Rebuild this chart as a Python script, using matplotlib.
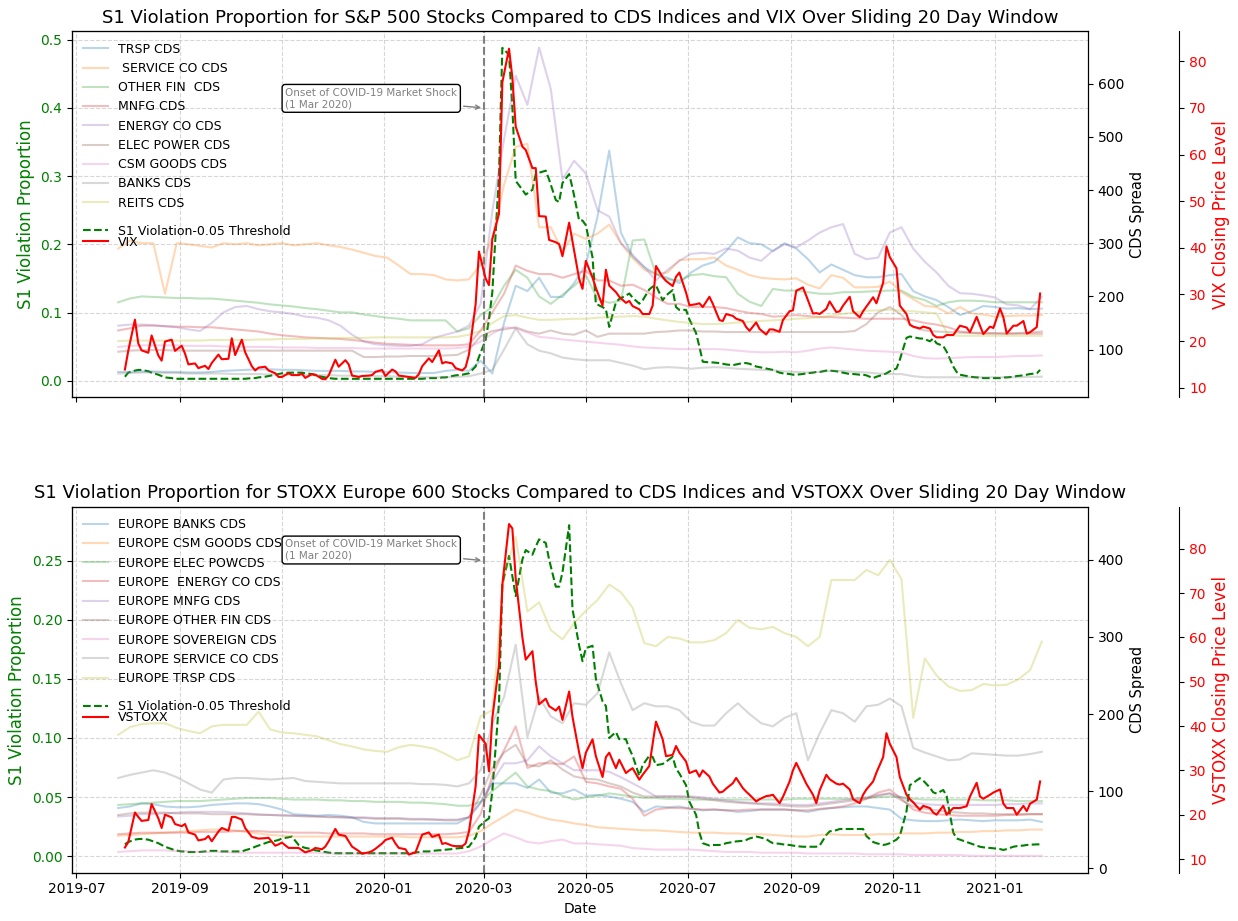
import pandas as pd
import matplotlib
matplotlib.use("Agg")
import matplotlib.pyplot as plt
import matplotlib.dates as mdates

# Fechas: CDS semanales, S1 y volatilidad cada 2 dias habiles
week_dates = pd.date_range("2019-07-26", periods=80, freq="7D")
vol_dates = pd.bdate_range("2019-07-30", "2021-01-28")[::2]
covid_date = pd.Timestamp("2020-03-01")

# ---------------- S&P 500 ----------------
us_cds_names = ["TRSP CDS", " SERVICE CO CDS", "OTHER FIN  CDS", "MNFG CDS", "ENERGY CO CDS",
                "ELEC POWER CDS", "CSM GOODS CDS", "BANKS CDS", "REITS CDS"]

trsp_cds = [58, 58, 59, 59, 58, 58, 57, 57, 58, 60,
            61, 62, 63, 63, 62, 62, 61, 60, 60, 60,
            59, 59, 58, 58, 57, 56, 56, 56, 60, 62,
            60, 79, 55, 150, 220, 210, 235, 199, 199, 225,
            260, 350, 474, 320, 275, 255, 242, 235, 225, 245,
            258, 265, 285, 311, 300, 298, 285, 300, 290, 270,
            245, 260, 250, 240, 236, 236, 240, 242, 210, 200,
            193, 180, 165, 172, 182, 180, 177, 178, 176, 177]
service_cds = [290, 305, 300, 300, 205, 300, 298, 295, 292, 300,
               298, 300, 296, 298, 300, 296, 298, 300, 296, 293,
               288, 282, 276, 273, 258, 242, 242, 240, 232, 230,
               232, 260, 310, 410, 481, 487, 330, 330, 285, 318,
               308, 318, 335, 300, 272, 250, 242, 245, 268, 270,
               270, 273, 258, 250, 240, 235, 233, 232, 234, 222,
               215, 240, 235, 217, 217, 218, 228, 208, 195, 182,
               180, 168, 180, 168, 166, 162, 163, 164, 164, 165]
other_fin_cds = [189, 196, 200, 199, 198, 197, 197, 196, 196, 194,
                 192, 190, 188, 185, 183, 181, 178, 176, 173, 170,
                 170, 166, 163, 160, 158, 155, 155, 155, 155, 134,
                 140, 165, 180, 220, 250, 235, 200, 186, 203, 220,
                 240, 195, 188, 192, 305, 307, 242, 232, 230, 240,
                 242, 238, 236, 205, 190, 182, 214, 211, 211, 208,
                 205, 205, 208, 208, 209, 210, 211, 211, 199, 193,
                 182, 189, 192, 192, 191, 189, 189, 189, 189, 189]
mnfg_cds = [136, 140, 145, 145, 144, 143, 143, 142, 142, 140,
            138, 136, 134, 130, 127, 125, 123, 122, 121, 120,
            118, 116, 113, 111, 110, 109, 108, 108, 108, 108,
            110, 136, 170, 205, 258, 248, 242, 242, 235, 242,
            248, 230, 230, 220, 222, 212, 198, 186, 186, 180,
            180, 180, 178, 173, 169, 167, 162, 163, 165, 163,
            161, 161, 160, 159, 158, 158, 158, 158, 155, 150,
            147, 142, 134, 132, 131, 131, 130, 130, 130, 130]
energy_cds = [145, 147, 147, 146, 144, 142, 138, 135, 150, 170,
              180, 182, 176, 172, 170, 167, 162, 160, 155, 145,
              128, 115, 110, 108, 107, 107, 110, 122, 128, 134,
              145, 186, 360, 495, 615, 560, 668, 590, 420, 455,
              431, 362, 350, 300, 278, 255, 230, 250, 267, 280,
              282, 280, 290, 286, 273, 267, 286, 298, 292, 305,
              320, 330, 336, 280, 270, 273, 320, 330, 290, 265,
              245, 220, 206, 205, 202, 198, 185, 183, 176, 199]
elec_power_cds = [96, 98, 99, 99, 99, 98, 98, 98, 98, 98,
                  98, 98, 98, 98, 98, 98, 98, 98, 98, 98,
                  98, 86, 86, 87, 87, 88, 88, 88, 89, 90,
                  100, 125, 135, 138, 142, 134, 130, 136, 130, 128,
                  136, 124, 130, 130, 130, 130, 133, 134, 136, 136,
                  134, 134, 133, 133, 133, 133, 133, 133, 133, 133,
                  133, 133, 133, 135, 148, 170, 180, 165, 142, 136,
                  134, 133, 132, 131, 130, 130, 130, 131, 132, 134]
csm_goods_cds = [105, 107, 108, 108, 108, 108, 107, 107, 107, 106,
                 106, 105, 105, 105, 104, 104, 104, 103, 103, 103,
                 103, 102, 102, 102, 102, 102, 102, 102, 102, 103,
                 105, 115, 130, 142, 140, 132, 124, 122, 119, 117,
                 115, 113, 111, 109, 106, 104, 103, 102, 101, 101,
                 101, 101, 100, 98, 96, 95, 95, 96, 95, 98,
                 102, 104, 102, 100, 98, 97, 96, 95, 88, 84,
                 83, 84, 85, 86, 86, 86, 87, 88, 88, 89]
banks_cds = [55, 56, 57, 57, 56, 56, 55, 55, 55, 55,
             54, 54, 54, 53, 53, 53, 52, 52, 52, 51,
             51, 50, 50, 50, 49, 49, 48, 48, 48, 49,
             50, 55, 62, 100, 140, 110, 98, 93, 85, 82,
             80, 80, 80, 75, 70, 63, 66, 67, 66, 64,
             66, 67, 66, 64, 63, 62, 61, 59, 58, 57,
             58, 60, 60, 58, 57, 55, 54, 54, 50, 48,
             48, 48, 48, 48, 48, 48, 48, 48, 49, 49]
reits_cds = [116, 117, 117, 117, 117, 117, 117, 117, 118, 118,
             118, 118, 119, 119, 120, 120, 120, 121, 121, 122,
             122, 122, 123, 123, 123, 123, 123, 123, 123, 124,
             128, 135, 150, 163, 165, 160, 156, 156, 157, 158,
             158, 160, 161, 162, 163, 162, 158, 155, 152, 150,
             148, 148, 149, 151, 152, 154, 155, 156, 158, 159,
             161, 164, 167, 170, 173, 174, 175, 173, 172, 170,
             168, 127, 126, 126, 126, 126, 126, 126, 126, 126]

s1_us = [0.006, 0.012, 0.015, 0.016, 0.016, 0.014, 0.012, 0.009, 0.007, 0.005,
         0.004, 0.003, 0.003, 0.003, 0.003, 0.003, 0.003, 0.003, 0.003, 0.003,
         0.003, 0.003, 0.003, 0.003, 0.003, 0.003, 0.003, 0.004, 0.004, 0.005,
         0.006, 0.007, 0.009, 0.010, 0.011, 0.012, 0.012, 0.012, 0.012, 0.011,
         0.010, 0.008, 0.006, 0.005, 0.004, 0.003, 0.003, 0.003, 0.003, 0.003,
         0.003, 0.003, 0.003, 0.003, 0.003, 0.003, 0.003, 0.003, 0.003, 0.003,
         0.003, 0.003, 0.003, 0.003, 0.003, 0.004, 0.004, 0.004, 0.005, 0.005,
         0.007, 0.008, 0.009, 0.010, 0.011, 0.021, 0.035, 0.060, 0.090, 0.130,
         0.303, 0.488, 0.478, 0.400, 0.293, 0.280, 0.273, 0.280, 0.303, 0.305,
         0.308, 0.295, 0.265, 0.262, 0.290, 0.303, 0.283, 0.235, 0.235, 0.228,
         0.181, 0.113, 0.108, 0.105, 0.079, 0.115, 0.120, 0.125, 0.128, 0.122,
         0.113, 0.118, 0.134, 0.138, 0.140, 0.118, 0.125, 0.133, 0.108, 0.104,
         0.104, 0.090, 0.070, 0.050, 0.028, 0.027, 0.027, 0.026, 0.025, 0.024,
         0.023, 0.024, 0.026, 0.026, 0.025, 0.021, 0.020, 0.018, 0.017, 0.016,
         0.012, 0.011, 0.010, 0.009, 0.009, 0.010, 0.011, 0.012, 0.013, 0.013,
         0.015, 0.015, 0.014, 0.013, 0.012, 0.010, 0.010, 0.009, 0.009, 0.008,
         0.004, 0.006, 0.009, 0.011, 0.014, 0.018, 0.031, 0.063, 0.065, 0.064,
         0.062, 0.062, 0.058, 0.062, 0.055, 0.051, 0.043, 0.021, 0.013, 0.009,
         0.007, 0.006, 0.005, 0.005, 0.004, 0.004, 0.004, 0.004, 0.005, 0.005,
         0.006, 0.007, 0.008, 0.009, 0.010, 0.011, 0.016]

vix = [13.9, 17.9, 24.6, 19.5, 18.0, 17.5, 21.2, 16.9, 15.8, 19.9,
       20.3, 17.9, 19.0, 17.3, 15.0, 15.2, 14.2, 14.7, 14.0, 15.3,
       17.1, 16.1, 16.2, 20.6, 17.0, 20.3, 17.6, 14.6, 13.7, 14.3,
       14.5, 13.7, 13.1, 12.3, 12.3, 13.1, 12.7, 12.7, 13.0, 12.1,
       12.9, 12.8, 11.9, 11.8, 12.6, 16.0, 14.5, 15.9, 15.0, 12.6,
       12.3, 12.5, 12.6, 12.7, 13.4, 13.8, 12.5, 13.9, 13.5, 12.6,
       12.4, 12.3, 12.1, 12.9, 14.6, 16.3, 15.5, 18.0, 15.2, 15.5,
       15.2, 14.2, 13.7, 14.4, 17.1, 27.9, 39.2, 33.4, 32.0, 41.9,
       47.3, 75.5, 82.7, 76.5, 66.0, 61.7, 61.0, 57.1, 57.1, 46.8,
       46.7, 41.7, 41.2, 40.8, 38.2, 45.4, 41.4, 33.3, 31.2, 37.2,
       33.6, 31.4, 27.6, 35.3, 31.9, 30.5, 29.5, 28.2, 28.6, 27.5,
       26.8, 25.8, 25.8, 27.6, 36.1, 33.7, 32.9, 31.8, 33.8, 34.7,
       30.4, 27.7, 27.9, 28.1, 27.3, 29.5, 28.0, 24.5, 24.3, 25.8,
       25.4, 24.8, 24.3, 23.0, 22.2, 24.0, 22.6, 21.4, 22.5, 22.5,
       22.0, 24.5, 26.4, 26.6, 30.8, 31.5, 29.7, 25.9, 26.0, 25.8,
       26.9, 28.5, 26.2, 26.4, 27.6, 29.5, 26.4, 25.1, 26.4, 27.4,
       29.4, 28.1, 32.5, 40.3, 38.0, 35.6, 27.6, 25.8, 23.5, 23.1,
       22.7, 23.1, 22.7, 21.3, 20.8, 20.8, 21.3, 21.3, 22.3, 23.3,
       22.9, 21.9, 25.2, 23.3, 21.5, 23.1, 22.8, 27.0, 25.1, 21.6,
       23.3, 23.3, 24.3, 21.6, 21.9, 23.0, 30.2]

# ---------------- STOXX Europe 600 ----------------
eu_cds_names = ["EUROPE BANKS CDS", "EUROPE CSM GOODS CDS", "EUROPE ELEC POWCDS",
                "EUROPE  ENERGY CO CDS", "EUROPE MNFG CDS", "EUROPE OTHER FIN CDS",
                "EUROPE SOVEREIGN CDS", "EUROPE SERVICE CO CDS", "EUROPE TRSP CDS"]

eu_banks_cds = [78, 80, 84, 83, 80, 79, 79, 80, 82, 83,
                84, 84, 83, 80, 76, 70, 69, 68, 69, 68,
                66, 60, 58, 58, 58, 58, 58, 58, 58, 58,
                66, 85, 110, 110, 110, 104, 115, 98, 97, 102,
                94, 95, 93, 90, 86, 73, 80, 79, 80, 77,
                75, 76, 75, 73, 74, 76, 76, 76, 75, 73,
                76, 78, 79, 80, 80, 78, 76, 64, 62, 61,
                61, 62, 63, 62, 61, 62, 62, 62, 63, 60]
eu_csm_cds = [42, 43, 44, 45, 46, 47, 48, 49, 50, 50,
              49, 47, 45, 43, 42, 41, 41, 41, 41, 41,
              41, 41, 41, 41, 41, 40, 40, 40, 40, 40,
              42, 48, 58, 67, 76, 72, 67, 63, 61, 58,
              56, 53, 52, 51, 50, 49, 49, 48, 47, 46,
              46, 46, 45, 45, 44, 44, 43, 42, 41, 41,
              43, 44, 43, 43, 43, 44, 44, 45, 45, 45,
              46, 46, 47, 47, 48, 48, 49, 49, 50, 50]
eu_elec_cds = [82, 83, 84, 85, 86, 87, 87, 87, 88, 89,
               90, 91, 91, 91, 90, 89, 89, 89, 88, 88,
               87, 87, 86, 86, 86, 85, 85, 84, 83, 81,
               81, 86, 100, 112, 124, 106, 102, 100, 94, 89,
               92, 94, 97, 95, 93, 91, 91, 90, 90, 89,
               89, 89, 89, 89, 89, 89, 89, 89, 90, 90,
               90, 90, 90, 90, 91, 92, 93, 92, 90, 89,
               89, 89, 89, 89, 88, 88, 88, 87, 87, 87]
eu_energy_cds = [44, 45, 46, 46, 46, 46, 46, 47, 47, 47,
                 48, 48, 48, 47, 47, 46, 46, 46, 45, 45,
                 45, 45, 44, 44, 44, 44, 44, 44, 44, 45,
                 47, 70, 120, 153, 184, 130, 136, 136, 135, 145,
                 112, 110, 106, 103, 90, 68, 76, 78, 78, 77,
                 76, 76, 75, 75, 76, 76, 76, 76, 75, 75,
                 77, 78, 80, 84, 90, 98, 102, 90, 76, 72,
                 70, 69, 68, 68, 68, 68, 69, 69, 70, 70]
eu_mnfg_cds = [67, 68, 70, 70, 71, 72, 73, 73, 73, 73,
               72, 71, 70, 69, 69, 68, 68, 67, 67, 66,
               66, 66, 65, 65, 65, 64, 64, 63, 63, 63,
               66, 85, 112, 136, 136, 140, 158, 145, 136, 127,
               127, 127, 125, 118, 110, 102, 93, 93, 93, 93,
               92, 90, 88, 86, 85, 84, 84, 83, 82, 82,
               84, 86, 88, 90, 92, 95, 97, 92, 85, 83,
               82, 82, 82, 82, 82, 82, 83, 83, 84, 84]
eu_other_fin_cds = [69, 71, 72, 72, 72, 71, 71, 71, 70, 70,
                    70, 70, 69, 69, 68, 68, 67, 67, 66, 66,
                    65, 65, 64, 64, 64, 63, 63, 63, 62, 62,
                    66, 95, 130, 150, 160, 134, 132, 140, 128, 119,
                    116, 115, 110, 106, 98, 93, 93, 93, 93, 92,
                    90, 88, 86, 85, 84, 83, 82, 81, 80, 80,
                    82, 84, 86, 88, 90, 94, 97, 88, 80, 77,
                    75, 73, 72, 71, 71, 70, 70, 70, 70, 70]
eu_sovereign_cds = [21, 22, 23, 23, 23, 22, 22, 21, 21, 21,
                    20, 20, 20, 20, 20, 20, 20, 20, 19, 19,
                    19, 19, 19, 19, 19, 19, 19, 19, 19, 19,
                    22, 28, 37, 45, 40, 34, 32, 35, 37, 32,
                    32, 31, 30, 29, 26, 25, 24, 24, 24, 24,
                    23, 22, 21, 21, 21, 20, 20, 20, 20, 19,
                    19, 19, 19, 19, 18, 18, 18, 18, 17, 17,
                    17, 17, 17, 16, 16, 16, 16, 16, 16, 16]
eu_service_cds = [117, 121, 124, 127, 124, 118, 110, 102, 98, 115,
                  117, 117, 116, 115, 116, 117, 113, 112, 111, 110,
                  110, 110, 110, 110, 110, 110, 109, 109, 108, 106,
                  110, 127, 188, 222, 290, 170, 222, 197, 188, 214,
                  212, 227, 280, 240, 205, 214, 210, 210, 205, 190,
                  185, 185, 201, 214, 200, 188, 184, 195, 201, 140,
                  175, 205, 201, 190, 210, 212, 220, 210, 156, 150,
                  145, 140, 141, 149, 148, 147, 146, 146, 148, 151]
eu_trsp_cds = [173, 183, 187, 188, 188, 182, 178, 175, 184, 186,
               186, 186, 203, 180, 176, 175, 173, 171, 166, 161,
               158, 154, 152, 151, 157, 160, 158, 155, 148, 140,
               145, 197, 205, 380, 430, 333, 345, 309, 297, 318,
               334, 348, 368, 358, 338, 292, 288, 300, 298, 293,
               293, 296, 305, 322, 312, 310, 313, 305, 300, 288,
               300, 374, 374, 374, 387, 380, 400, 375, 195, 272,
               250, 236, 230, 231, 239, 237, 238, 245, 257, 294]

s1_eu = [0.010, 0.012, 0.014, 0.0145, 0.0146, 0.014, 0.013, 0.011, 0.0095, 0.008,
         0.006, 0.005, 0.004, 0.004, 0.0035, 0.0035, 0.0035, 0.004, 0.0045, 0.0045,
         0.0045, 0.004, 0.004, 0.004, 0.004, 0.004, 0.005, 0.0067, 0.008, 0.009,
         0.011, 0.012, 0.013, 0.0137, 0.015, 0.016, 0.0166, 0.0095, 0.008, 0.007,
         0.006, 0.005, 0.004, 0.0035, 0.003, 0.0025, 0.0025, 0.0025, 0.0025, 0.0025,
         0.0025, 0.0025, 0.0025, 0.0025, 0.0025, 0.0025, 0.0025, 0.0025, 0.0025, 0.0025,
         0.0025, 0.0025, 0.003, 0.0035, 0.004, 0.004, 0.0045, 0.005, 0.005, 0.0055,
         0.006, 0.0065, 0.007, 0.0075, 0.008, 0.016, 0.025, 0.030, 0.032, 0.055,
         0.130, 0.230, 0.254, 0.237, 0.220, 0.251, 0.259, 0.255, 0.262, 0.268,
         0.265, 0.251, 0.228, 0.228, 0.240, 0.280, 0.209, 0.178, 0.165, 0.176,
         0.178, 0.150, 0.131, 0.127, 0.100, 0.105, 0.099, 0.099, 0.091, 0.085,
         0.068, 0.077, 0.085, 0.084, 0.077, 0.078, 0.080, 0.084, 0.074, 0.070,
         0.060, 0.046, 0.035, 0.020, 0.011, 0.009, 0.0095, 0.0095, 0.010, 0.011,
         0.012, 0.0125, 0.013, 0.0137, 0.015, 0.0166, 0.016, 0.0145, 0.0125, 0.011,
         0.0105, 0.010, 0.0095, 0.009, 0.0085, 0.008, 0.008, 0.008, 0.008, 0.009,
         0.018, 0.021, 0.022, 0.023, 0.023, 0.023, 0.023, 0.023, 0.023, 0.017,
         0.012, 0.011, 0.0095, 0.010, 0.011, 0.014, 0.017, 0.038, 0.060, 0.062,
         0.066, 0.064, 0.058, 0.054, 0.053, 0.056, 0.051, 0.020, 0.015, 0.014,
         0.012, 0.011, 0.009, 0.008, 0.0075, 0.007, 0.0067, 0.006, 0.0053, 0.006,
         0.008, 0.0085, 0.009, 0.0095, 0.0097, 0.010, 0.010]

vstoxx = [12.6, 13.8, 20.5, 19.5, 18.6, 18.8, 22.4, 19.2, 17.0, 20.0,
          19.4, 17.9, 17.4, 17.9, 16.0, 15.5, 14.2, 14.5, 15.2, 14.0,
          16.2, 17.0, 16.4, 19.5, 19.5, 18.9, 17.0, 15.0, 14.8, 14.6,
          14.7, 14.8, 13.0, 13.3, 13.7, 12.5, 12.5, 12.5, 12.0, 11.5,
          12.0, 12.5, 12.2, 12.8, 14.0, 16.8, 15.5, 15.2, 14.0, 12.8,
          11.8, 11.2, 11.5, 11.8, 12.3, 13.5, 14.3, 14.8, 13.5, 12.5,
          12.2, 11.0, 11.5, 13.5, 15.5, 16.0, 15.0, 15.5, 13.4, 13.6,
          13.0, 12.9, 12.9, 13.5, 16.2, 26.4, 38.0, 36.0, 29.8, 41.8,
          53.9, 71.9, 85.6, 84.6, 73.3, 60.0, 55.0, 56.9, 50.0, 44.9,
          46.2, 44.5, 43.5, 44.4, 41.4, 47.8, 42.1, 34.0, 30.5, 34.0,
          37.0, 33.2, 28.5, 33.0, 34.0, 30.5, 32.4, 29.4, 30.0, 30.5,
          27.9, 29.0, 31.0, 36.0, 41.0, 37.0, 33.2, 33.5, 35.5, 34.0,
          32.0, 29.4, 30.0, 28.6, 30.0, 28.6, 27.0, 25.0, 25.2, 25.9,
          27.1, 28.3, 26.0, 25.2, 24.5, 23.0, 23.5, 24.2, 24.3, 24.5,
          22.6, 24.0, 27.5, 30.0, 31.7, 28.6, 27.0, 24.5, 22.6, 25.5,
          29.0, 28.0, 27.0, 26.8, 27.0, 25.7, 23.5, 22.6, 24.5, 25.7,
          27.5, 29.5, 33.0, 38.4, 36.0, 33.0, 28.5, 24.5, 23.5, 22.8,
          21.1, 22.0, 21.5, 20.5, 20.0, 22.0, 20.0, 21.5, 21.5, 21.5,
          21.9, 24.1, 27.2, 24.1, 23.6, 24.5, 25.0, 25.7, 22.5, 21.5,
          21.5, 20.0, 22.0, 20.8, 22.5, 23.4, 27.5]

us_cds = [trsp_cds, service_cds, other_fin_cds, mnfg_cds, energy_cds,
          elec_power_cds, csm_goods_cds, banks_cds, reits_cds]
eu_cds = [eu_banks_cds, eu_csm_cds, eu_elec_cds, eu_energy_cds, eu_mnfg_cds,
          eu_other_fin_cds, eu_sovereign_cds, eu_service_cds, eu_trsp_cds]

fig, (ax_top, ax_bot) = plt.subplots(2, 1, figsize=(12.38, 9.21), dpi=100, sharex=True)
fig.subplots_adjust(left=0.0582, right=0.8788, top=0.9658, bottom=0.0524, hspace=0.2986)


def panel(ax1, titulo, nombres, series, s1, vol, vol_nombre, vol_label,
          s1_lim, cds_lim, vol_lim, caja_y):
    ax1.plot(vol_dates, s1, color="green", linestyle="--", linewidth=1.5,
             label="S1 Violation-0.05 Threshold")
    ax1.axvline(covid_date, color="gray", linestyle="--", linewidth=1.5)
    ax1.set_ylim(*s1_lim)
    ax1.set_ylabel("S1 Violation Proportion", color="green", fontsize=12)
    ax1.tick_params(axis="y", labelcolor="green")
    ax1.grid(True, linestyle="--", alpha=0.5)
    ax1.set_title(titulo, fontsize=13)

    ax2 = ax1.twinx()
    for nombre, valores in zip(nombres, series):
        ax2.plot(week_dates, valores, alpha=0.3, linewidth=1.5, label=nombre)
    ax2.set_ylim(*cds_lim)
    ax2.set_ylabel("CDS Spread", fontsize=10.5)

    ax3 = ax1.twinx()
    ax3.spines["right"].set_position(("axes", 1.09))
    ax3.plot(vol_dates, vol, color="red", linewidth=1.5, label=vol_nombre)
    ax3.set_ylim(*vol_lim)
    ax3.set_ylabel(vol_label, color="red", fontsize=12)
    ax3.tick_params(axis="y", labelcolor="red")

    ax2.legend(loc="upper left", frameon=False, fontsize=9)
    ax1.legend(loc="upper left", bbox_to_anchor=(0, 0.503), frameon=False, fontsize=9)
    ax3.legend(loc="upper left", bbox_to_anchor=(0, 0.473), frameon=False, fontsize=9)

    ax1.annotate("Onset of COVID-19 Market Shock\n(1 Mar 2020)",
                 xy=(covid_date, caja_y[0]), xytext=(pd.Timestamp("2019-11-03"), caja_y[1]),
                 va="center", fontsize=7.5, color="gray",
                 bbox=dict(boxstyle="round,pad=0.3", fc="white", ec="black"),
                 arrowprops=dict(arrowstyle="->", color="gray"))


panel(ax_top,
      "S1 Violation Proportion for S&P 500 Stocks Compared to CDS Indices and VIX Over Sliding 20 Day Window",
      us_cds_names, us_cds, s1_us, vix, "VIX", "VIX Closing Price Level",
      (-0.0244, 0.512), (10, 698), (7.9, 86.4), (0.40, 0.414))
panel(ax_bot,
      "S1 Violation Proportion for STOXX Europe 600 Stocks Compared to CDS Indices and VSTOXX Over Sliding 20 Day Window",
      eu_cds_names, eu_cds, s1_eu, vstoxx, "VSTOXX", "VSTOXX Closing Price Level",
      (-0.014, 0.2956), (-6, 469), (6.9, 89.5), (0.25, 0.259))

ax_bot.xaxis.set_major_locator(mdates.MonthLocator(bymonth=[1, 3, 5, 7, 9, 11]))
ax_bot.xaxis.set_major_formatter(mdates.DateFormatter("%Y-%m"))
ax_bot.set_xlabel("Date")

fig.savefig("out.png", dpi=100)
